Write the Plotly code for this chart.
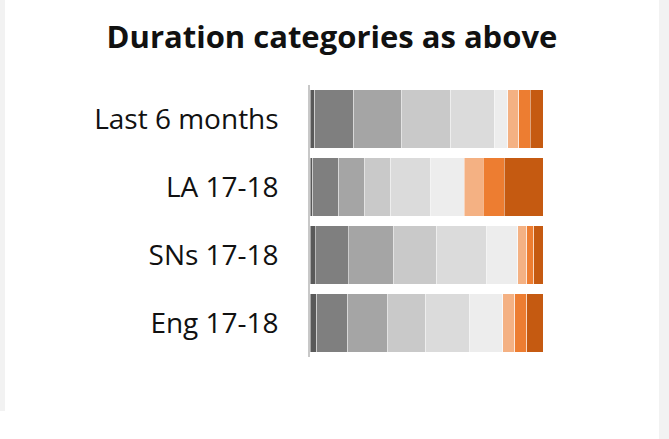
import plotly.graph_objects as go

categories = ["Last 6 months", "LA 17-18", "SNs 17-18", "Eng 17-18"]
segment_names = ["D1", "D2", "D3", "D4", "D5", "D6", "D7", "D8", "D9"]
segment_colors = ["#595959", "#7f7f7f", "#a5a5a5", "#c9c9c9", "#dbdbdb",
                  "#ededed", "#f4b183", "#ed7d31", "#c55a11"]

# percentage share of each duration category, per row (rows follow `categories`)
last6 = [2.0, 16.7, 20.7, 21.1, 18.5, 5.9, 4.7, 4.9, 5.5]
la = [1.2, 11.2, 11.1, 11.2, 17.2, 14.4, 8.0, 9.1, 16.6]
sns = [2.3, 14.1, 19.6, 18.5, 21.4, 13.3, 3.9, 3.0, 3.9]
eng = [2.9, 13.3, 17.1, 16.3, 18.9, 14.2, 5.2, 5.2, 6.9]
rows = [last6, la, sns, eng]

W, H = 669, 439
L, R, T, B = 310, 126, 85, 82

fig = go.Figure()
for i, (name, col) in enumerate(zip(segment_names, segment_colors)):
    fig.add_trace(go.Bar(
        y=categories,
        x=[r[i] for r in rows],
        name=name,
        orientation="h",
        marker=dict(color=col, line=dict(color="rgba(255,255,255,0.45)", width=1)),
        hoverinfo="x+y+name",
        showlegend=False,
    ))

pw = W - L - R
ph = H - T - B
def px_x(p):
    return (p - L) / pw
def px_y(p):
    return (H - B - p) / ph

fig.update_layout(
    width=W, height=H,
    barmode="stack",
    bargap=0.135,
    margin=dict(l=L, r=R, t=T, b=B, pad=0),
    paper_bgcolor="white",
    plot_bgcolor="white",
    font=dict(family="Open Sans, Noto Sans, sans-serif", color="#000000"),
    title=dict(text="<b>Duration categories as above</b>", x=332 / W, xanchor="center",
               y=1 - 37 / H, yanchor="middle",
               font=dict(size=31, family="Open Sans, Noto Sans, sans-serif", color="#111111")),
    xaxis=dict(range=[0, 100], showgrid=False, showticklabels=False, zeroline=False,
               showline=False, fixedrange=True),
    yaxis=dict(categoryorder="array", categoryarray=categories, autorange="reversed",
               showgrid=False, showline=True, linecolor="#c8c8c8", linewidth=1.5,
               ticks="", tickfont=dict(size=28, color="#111111"),
               ticklabelstandoff=24, zeroline=False),
    shapes=[
        dict(type="rect", xref="paper", yref="paper", layer="below",
             x0=px_x(0), x1=px_x(5), y0=px_y(0), y1=px_y(411),
             fillcolor="#f2f2f2", line=dict(width=0)),
        dict(type="rect", xref="paper", yref="paper", layer="below",
             x0=px_x(659), x1=px_x(669), y0=px_y(0), y1=px_y(439),
             fillcolor="#f2f2f2", line=dict(width=0)),
    ],
)

fig.write_html("out.html", config={"displayModeBar": False},
               post_script="document.body.style.margin='0';document.body.style.overflow='hidden';")
